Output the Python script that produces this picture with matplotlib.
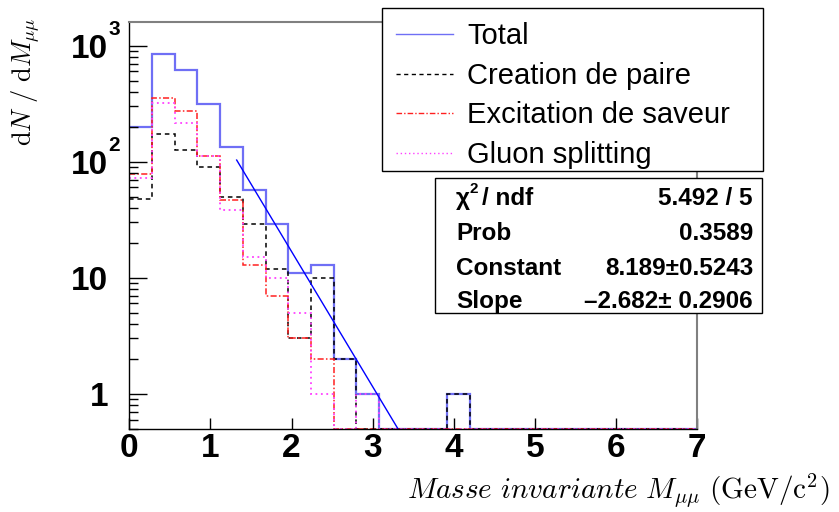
#!/usr/bin/env python
"""
Dimuon invariant mass spectrum with its heavy-flavour components and an
exponential fit of the tail.
"""
import numpy as np
import matplotlib
matplotlib.use("Agg")
import matplotlib.pyplot as plt
from matplotlib.lines import Line2D
from matplotlib.patches import Rectangle
from matplotlib.ticker import LogLocator, NullFormatter, FixedLocator, FixedFormatter

plt.rcParams["mathtext.fontset"] = "cm"

# 25 bins of 0.28 GeV/c^2 between 0 and 7
bin_edges = np.linspace(0.0, 7.0, 26)

total = [200, 853, 612, 316, 135, 57, 29, 11, 13, 2, 1, 0, 0, 0, 1,
         0, 0, 0, 0, 0, 0, 0, 0, 0, 0]
creation_paire = [48, 174, 127, 90, 50, 29, 12, 3, 10, 2, 0, 0, 0, 0, 1,
                  0, 0, 0, 0, 0, 0, 0, 0, 0, 0]
excitation_saveur = [79, 357, 271, 113, 47, 13, 7, 3, 2, 0, 0, 0, 0, 0, 0,
                     0, 0, 0, 0, 0, 0, 0, 0, 0, 0]
gluon_splitting = [73, 322, 214, 113, 38, 15, 10, 5, 1, 0, 1, 0, 0, 0, 0,
                   0, 0, 0, 0, 0, 0, 0, 0, 0, 0]

legend_labels = ["Total", "Creation de paire", "Excitation de saveur", "Gluon splitting"]

# exponential fit: exp(constant + slope * m)
fit_constant = 8.189
fit_constant_err = 0.5243
fit_slope = -2.682
fit_slope_err = 0.2906
fit_chi2 = 5.492
fit_ndf = 5
fit_prob = 0.3589
fit_xmin = 1.324
fit_xmax = 7.0

x_ticks = [0, 1, 2, 3, 4, 5, 6, 7]
y_ticks = [1, 10, 100, 1000]
y_tick_labels = ["1", "10", "10", "10"]
y_tick_exponents = {100: "2", 1000: "3"}

Y_MIN, Y_MAX = 0.5, 1600

W, H = 839, 512


def fx(x):
    return x / W


def fy(y):
    return 1.0 - y / H


styles = [
    dict(color="#6f6ff5", lw=1.6, ls="-"),
    dict(color="black", lw=1.1, ls=(0, (3, 2.5))),
    dict(color="#ff2020", lw=1.1, ls=(0, (4, 1.5, 1, 1.5))),
    dict(color="#ff40ff", lw=1.3, ls=(0, (1, 2))),
]

fig = plt.figure(figsize=(W / 100, H / 100), dpi=100)
ax = fig.add_axes([fx(129.3), fy(428.7), fx(697) - fx(129.3), fy(22) - fy(428.7)])

# empty bins sit on the bottom of the frame, as in ROOT
series = [total, creation_paire, excitation_saveur, gluon_splitting]
for values, st in zip(series, styles):
    v = np.asarray(values, dtype=float)
    v = np.where(v > 0, v, Y_MIN)
    ax.stairs(v, bin_edges, baseline=None, color=st["color"], lw=st["lw"],
              linestyle=st["ls"])

m = np.linspace(fit_xmin, fit_xmax, 400)
ax.plot(m, np.exp(fit_constant + fit_slope * m), color="#0000ff", lw=1.0)

ax.set_yscale("log")
ax.set_xlim(0, 7)
ax.set_ylim(Y_MIN, Y_MAX)

ax.xaxis.set_major_locator(FixedLocator(x_ticks))
ax.set_xticklabels([str(t) for t in x_ticks])
ax.yaxis.set_major_locator(FixedLocator(y_ticks))
ax.yaxis.set_major_formatter(FixedFormatter(y_tick_labels))
ax.yaxis.set_minor_locator(LogLocator(base=10, subs=np.arange(2, 10), numticks=20))
ax.yaxis.set_minor_formatter(NullFormatter())

ax.tick_params(axis="x", which="major", direction="in", length=8, width=1,
               pad=3, labelsize=24)
ax.tick_params(axis="y", which="major", direction="in", length=13, width=1,
               pad=15, labelsize=24)
ax.tick_params(axis="y", which="minor", direction="in", length=6.5, width=1)
for lab in ax.get_xticklabels() + ax.get_yticklabels():
    lab.set_fontfamily("Liberation Sans")
    lab.set_fontweight("bold")

for side in ("top", "right"):
    ax.spines[side].set_color("#808080")
    ax.spines[side].set_linewidth(1.5)
ax.spines["left"].set_linewidth(1.0)
ax.spines["bottom"].set_linewidth(1.0)

# exponents of the decade labels
for val, exp in y_tick_exponents.items():
    ypix = 394 - 116 * np.log10(val)
    fig.text(fx(108), fy(ypix - 11), exp, ha="left", va="baseline",
             family="Liberation Sans", weight="bold", fontsize=15)

fig.text(fx(26), fy(82), r"$\mathrm{d}N\ /\ \mathrm{d}M_{\mu\mu}$", rotation=90,
         ha="center", va="center", fontsize=19)
fig.text(fx(829), fy(499),
         r"$\mathit{Masse\ invariante}\ M_{\mu\mu}\ \mathrm{(GeV/c^{2})}$",
         ha="right", va="baseline", fontsize=21)

# legend box
fig.patches.append(Rectangle((fx(381.7), fy(171)), fx(762.7) - fx(381.7),
                             fy(8.3) - fy(171), transform=fig.transFigure,
                             facecolor="white", edgecolor="black", lw=1.0,
                             zorder=5))
rows_y = [34, 74, 113, 153]
for label, st, ly in zip(legend_labels, styles, rows_y):
    fig.lines.append(Line2D([fx(396), fx(453)], [fy(ly), fy(ly)],
                            transform=fig.transFigure, color=st["color"],
                            lw=1.0, linestyle=st["ls"], zorder=6))
    fig.text(fx(467), fy(ly + 10), label, ha="left", va="baseline",
             family="Liberation Sans", fontsize=21, zorder=7)

# fit statistics box
fig.patches.append(Rectangle((fx(435), fy(312.7)), fx(761.7) - fx(435),
                             fy(178) - fy(312.7), transform=fig.transFigure,
                             facecolor="white", edgecolor="black", lw=1.0,
                             zorder=5))
stats_rows = [
    ("\u03c7", f"{fit_chi2:.3f} / {fit_ndf}"),
    ("Prob", f"{fit_prob:.4f}"),
    ("Constant", f"{fit_constant:.3f}\u00b1{fit_constant_err:.4f}"),
    ("Slope", f"\u2013{abs(fit_slope):.3f}\u00b1 {fit_slope_err:.4f}"),
]
stats_y = [205, 240, 275, 308]
stat_font = dict(family="Liberation Sans", weight="bold", fontsize=17.5, zorder=7)
for (name, value), sy in zip(stats_rows, stats_y):
    fig.text(fx(456), fy(sy), name, ha="left", va="baseline", **stat_font)
    fig.text(fx(753), fy(sy), value, ha="right", va="baseline", **stat_font)
# rest of the chi2 label: superscript and "/ ndf"
fig.text(fx(470), fy(193), "2", ha="left", va="baseline",
         family="Liberation Sans", weight="bold", fontsize=11, zorder=7)
fig.text(fx(482), fy(205), "/ ndf", ha="left", va="baseline", **stat_font)

fig.savefig("out.png", dpi=100)
